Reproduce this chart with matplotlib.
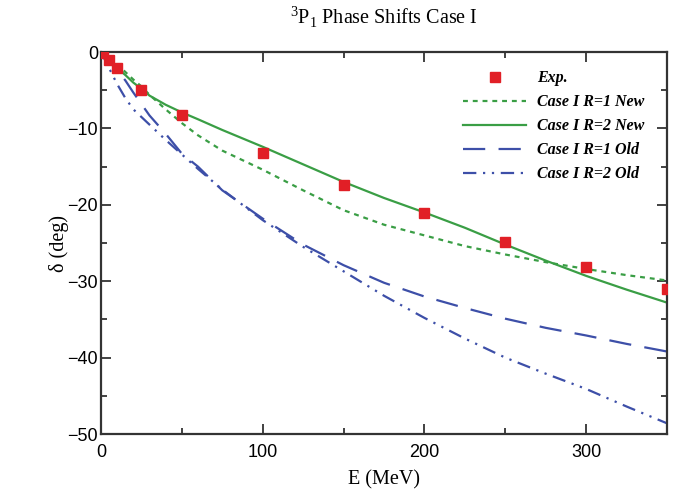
import matplotlib
matplotlib.use("Agg")
import matplotlib.pyplot as plt
from matplotlib.ticker import MultipleLocator

# experimental points
e_exp = [1, 5, 10, 25, 50, 100, 150, 200, 250, 300, 350]
d_exp = [-0.1, -1.1, -2.05, -5.0, -8.2, -13.2, -17.4, -21.1, -24.8, -28.1, -31.0]

# model curves
e_th = [0, 5, 10, 15, 20, 25, 30, 40, 50, 60, 75, 100, 125, 150, 175, 200, 225, 250, 275, 300, 325, 350]
r1_new = [0, -0.7, -1.6, -2.6, -3.6, -4.5, -5.6, -7.5, -9.3, -10.9, -12.9, -15.4, -18.1, -20.7, -22.6, -24.0, -25.4, -26.5, -27.5, -28.4, -29.2, -29.9]
r2_new = [0, -1.0, -2.1, -3.0, -4.0, -4.8, -5.7, -6.9, -7.9, -8.8, -10.2, -12.4, -14.7, -17.0, -19.1, -21.0, -23.0, -25.2, -27.3, -29.3, -31.1, -32.8]
r1_old = [0, -1.2, -2.4, -3.7, -5.3, -6.8, -8.3, -10.7, -13.3, -15.0, -18.1, -21.8, -25.2, -27.9, -30.2, -32.0, -33.5, -34.9, -36.1, -37.1, -38.2, -39.2]
r2_old = [0, -2.1, -4.2, -6.0, -7.5, -8.5, -9.5, -11.5, -13.4, -15.3, -18.0, -22.0, -25.5, -28.7, -31.9, -34.8, -37.5, -40.0, -42.1, -44.1, -46.4, -48.6]

green = '#3a9e45'
blue = '#3d4fa8'
red = '#e11f26'
serif = 'Liberation Serif'
plt.rcParams['mathtext.fontset'] = 'custom'
plt.rcParams['mathtext.rm'] = serif

fig = plt.figure(figsize=(6.8, 4.91), dpi=100)
ax = fig.add_axes([0.1485, 0.116, 0.8325, 0.778])

ax.plot(e_exp, d_exp, linestyle='none', marker='s', color=red, markersize=6.5, label='Exp.', zorder=5)
ax.plot(e_th, r1_new, color=green, linewidth=1.6, dashes=(2.2, 2.2), label='Case I R=1 New')
ax.plot(e_th, r2_new, color=green, linewidth=1.6, linestyle='solid', label='Case I R=2 New')
ax.plot(e_th, r1_old, color=blue, linewidth=1.6, dashes=(10, 6), label='Case I R=1 Old')
ax.plot(e_th, r2_old, color=blue, linewidth=1.6, dashes=(6, 3, 1, 3, 1, 3), label='Case I R=2 Old')

ax.set_xlim(0, 350)
ax.set_ylim(-50, 0)
ax.xaxis.set_major_locator(MultipleLocator(100))
ax.xaxis.set_minor_locator(MultipleLocator(50))
ax.yaxis.set_major_locator(MultipleLocator(10))
ax.yaxis.set_minor_locator(MultipleLocator(5))
ax.tick_params(which='both', direction='in', top=True, right=True, width=1.3, color='#333333')
ax.tick_params(which='major', length=7, labelsize=13)
ax.tick_params(axis='x', which='major', pad=7)
ax.tick_params(axis='y', which='major', pad=2)
ax.tick_params(which='minor', length=4.5)
for lab in ax.get_xticklabels() + ax.get_yticklabels():
    lab.set_family('Liberation Sans')
for s in ax.spines.values():
    s.set_linewidth(1.6)
    s.set_color('#333333')

ax.set_xlabel('E (MeV)', family=serif, fontsize=14.5, labelpad=7)
ax.set_ylabel('δ (deg)', family=serif, fontsize=14.5, labelpad=-1)
ax.set_title('$^3$P$_1$ Phase Shifts Case I', family=serif, fontsize=14.5, pad=20)

leg = ax.legend(loc='upper right', frameon=False, handlelength=3.9, labelspacing=0.5,
                prop={'family': serif, 'style': 'italic', 'weight': 'bold', 'size': 11.5},
                bbox_to_anchor=(0.985, 0.99), handletextpad=0.7)

fig.savefig('out.png', dpi=100)
